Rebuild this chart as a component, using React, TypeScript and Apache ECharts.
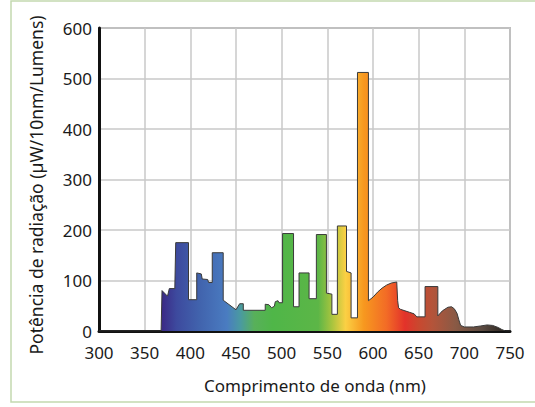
import React, { useEffect, useRef } from "react";
import * as echarts from "echarts";

const wavelengths = [
  300, 368, 369, 375, 377, 383, 384, 398, 398, 407, 407, 412, 413, 419, 420, 424, 424, 436, 436, 450,
  454, 458, 458, 482, 482, 486, 489, 492, 493, 496, 497, 501, 501, 513, 513, 519, 519, 530, 530, 538,
  538, 549, 549, 555, 555, 561, 561, 571, 571, 576, 576, 583, 583, 595, 595, 600, 605, 610, 615, 620,
  626, 627, 628, 630, 635, 640, 645, 648, 657, 657, 671, 671, 676, 682, 686, 689, 692, 694, 696, 700,
  710, 718, 725, 731, 737, 741, 745, 750,
];
const power = [
  0, 0, 80, 69, 84, 84, 175, 175, 62, 62, 115, 113, 103, 102, 96, 96, 155, 155, 61, 42,
  54, 54, 41, 41, 53, 52, 46, 49, 58, 60, 56, 56, 193, 193, 48, 48, 115, 115, 64, 64,
  191, 191, 75, 73, 33, 33, 208, 208, 118, 115, 26, 26, 512, 512, 60, 67, 77, 85, 91, 95,
  97, 60, 46, 43, 40, 37, 34, 28, 28, 88, 88, 30, 40, 47, 48, 44, 35, 22, 11, 8,
  8, 10, 12, 11, 7, 3, 0, 0,
];

const colorNm = [369, 385, 410, 440, 455, 470, 490, 540, 555, 570, 590, 615, 635, 650, 665, 690, 720, 745];
const colorHex = [
  "#3b2a86", "#3d4a9e", "#4163ad", "#4a7cc1", "#4a9aa0", "#58b05a", "#4fb648", "#5cb647", "#a8c43e",
  "#fbd044", "#f7981f", "#f26b26", "#e3322a", "#c9482f", "#b4543a", "#8a5a45", "#5a4a40", "#2a2520",
];

const xTicks = { min: 300, max: 750, interval: 50 };
const yTicks = { min: 0, max: 600, interval: 100 };
const xTitle = "Comprimento de onda (nm)";
const yTitle = "Potência de radiação (µW/10nm/Lumens)";

export default function App() {
  const ref = useRef<HTMLDivElement>(null);
  useEffect(() => {
    if (!ref.current) return;
    const chart = echarts.init(ref.current, null, { renderer: "svg" });
    const span = xTicks.max - xTicks.min;
    const stops = colorNm.map((nm, i) => ({ offset: (nm - xTicks.min) / span, color: colorHex[i] }));
    const data = wavelengths.map((w, i) => [w, power[i]]);
    const font = "'Noto Sans', 'Open Sans', sans-serif";
    chart.setOption({
      animation: false,
      backgroundColor: "#ffffff",
      grid: {
        left: 99, right: 25, top: 28, bottom: 76, containLabel: false,
        show: true, borderColor: "#8a8a8a", borderWidth: 1.5, backgroundColor: "transparent",
      },
      graphic: [
        {
          type: "rect",
          shape: { x: 11, y: 1, width: 540, height: 401 },
          style: { fill: "none", stroke: "#c3d9b0", lineWidth: 1.5 },
          silent: true,
          z: -1,
        },
        {
          type: "text",
          x: 315,
          y: 385,
          style: {
            text: xTitle, fontFamily: font, fontSize: 17, fill: "#1a1a1a",
            align: "center", verticalAlign: "middle",
          },
        },
        {
          type: "text",
          x: 36,
          y: 185,
          rotation: Math.PI / 2,
          style: {
            text: yTitle, fontFamily: font, fontSize: 17.5, fill: "#1a1a1a",
            align: "center", verticalAlign: "middle",
          },
        },
      ],
      xAxis: {
        type: "value",
        min: xTicks.min,
        max: xTicks.max,
        interval: xTicks.interval,
        axisLine: { show: true, lineStyle: { color: "#111", width: 3 } },
        axisTick: { show: false },
        axisLabel: { fontFamily: font, fontSize: 17, color: "#1a1a1a", margin: 13 },
        splitLine: { show: true, lineStyle: { color: "#c8c8c8", width: 1.5 } },
      },
      yAxis: {
        type: "value",
        min: yTicks.min,
        max: yTicks.max,
        interval: yTicks.interval,
        axisLine: { show: true, lineStyle: { color: "#111", width: 3 } },
        axisTick: { show: false },
        axisLabel: { fontFamily: font, fontSize: 17, color: "#1a1a1a", margin: 7 },
        splitLine: { show: true, lineStyle: { color: "#c8c8c8", width: 1.5 } },
      },
      series: [
        {
          type: "line",
          data,
          symbol: "none",
          lineStyle: { color: "#3a3a3a", width: 1 },
          areaStyle: {
            opacity: 1,
            color: new echarts.graphic.LinearGradient(0, 0, 1, 0, stops),
          },
          z: 3,
        },
      ],
    });
    return () => chart.dispose();
  }, []);
  return (
    <div
      ref={ref}
      style={{ position: "fixed", left: 0, top: 0, width: 535, height: 407 }}
    />
  );
}
